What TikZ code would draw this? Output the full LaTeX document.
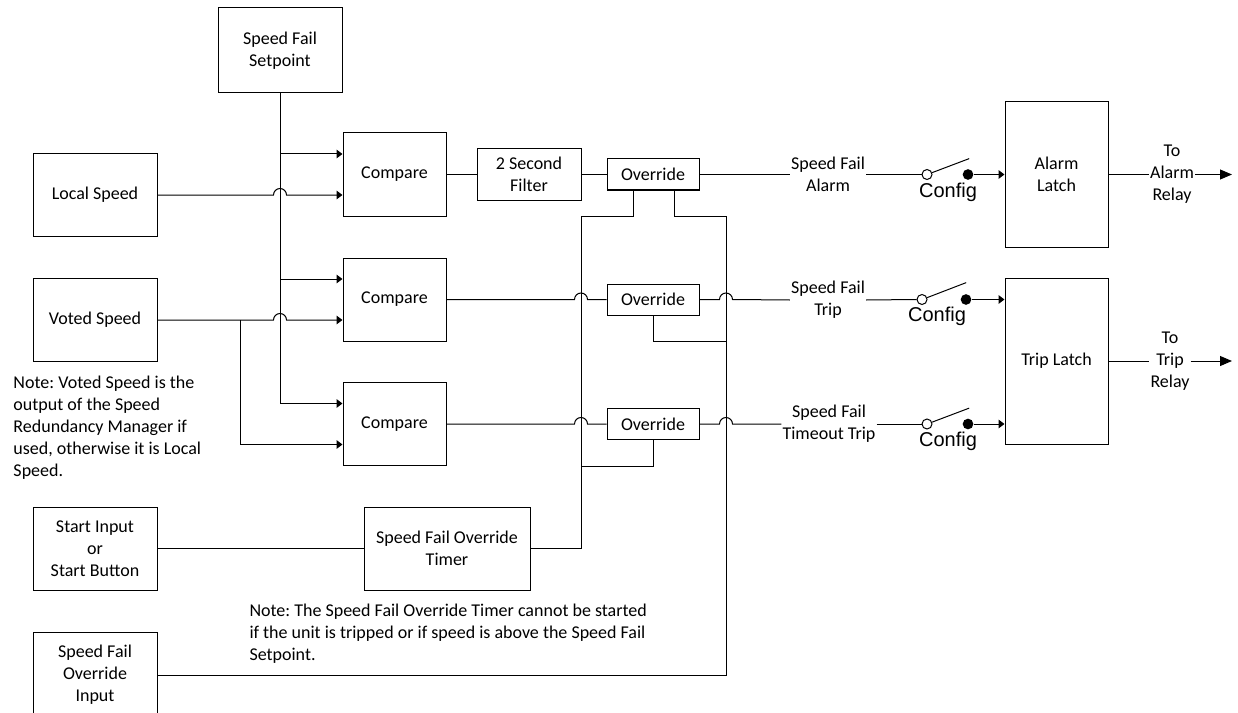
\documentclass[tikz,border=0pt]{standalone}
\usepackage{fontspec}
\setmainfont{Carlito}
\newfontfamily\cfgfont{Liberation Sans}
\usetikzlibrary{arrows.meta,calc}
\frenchspacing

\tikzset{every picture/.style={line width=0.75pt}}
\tikzset{
  txt/.style={font=\fontsize{13.5}{16.5}\selectfont},
  blk/.style={draw, txt, align=center, inner sep=1pt},
  lbl/.style={txt, align=center, inner xsep=0.5pt, inner ysep=1pt},
  note/.style={txt, anchor=north west, align=left, inner sep=0pt},
  cfg/.style={font=\cfgfont\fontsize{15}{17}\selectfont, inner sep=0pt},
  opencon/.style={draw, circle, fill=white, inner sep=0pt, minimum size=7.5pt},
  shutcon/.style={fill, circle, inner sep=0pt, minimum size=8pt},
  inarr/.style={-{Triangle[length=4.5pt,width=6.5pt]}},
  outarr/.style={-{Triangle[length=9pt,width=7.5pt]}},
  hop/.style={insert path={arc[start angle=180,end angle=360,radius=6.5]}},
}

\begin{document}
\begin{tikzpicture}[x=0.75pt,y=0.75pt,yscale=-1,xscale=1]
\useasboundingbox (0,0) rectangle (1238,713);

% Input blocks
\node[blk, minimum width=93pt, minimum height=63.75pt] (setp) at (280,50.5) {Speed Fail\\Setpoint};
\node[blk, minimum width=93pt, minimum height=62.25pt] (local) at (95,195) {Local Speed};
\node[blk, minimum width=93pt, minimum height=62.25pt] (voted) at (95,320) {Voted Speed};
\node[blk, minimum width=93pt, minimum height=62.25pt] (start) at (95,548.5) {Start Input\\or\\Start Button};
\node[blk, minimum width=93pt, minimum height=64.5pt] (sfoi) at (95,675) {Speed Fail\\Override\\Input};

% Compare blocks
\node[blk, minimum width=77.25pt, minimum height=62.25pt] (cmp1) at (394.5,174.5) {Compare};
\node[blk, minimum width=77.25pt, minimum height=62.25pt] (cmp2) at (394.5,299.5) {Compare};
\node[blk, minimum width=77.25pt, minimum height=62.25pt] (cmp3) at (394.5,424) {Compare};

% Filter, overrides, timer
\node[blk, minimum width=78pt, minimum height=39pt] (filt) at (529,174.5) {2 Second\\Filter};
\node[blk, minimum width=69pt, minimum height=23.25pt] (ovr1) at (653,174.5) {Override};
\node[blk, minimum width=69pt, minimum height=23.25pt] (ovr2) at (653,299.5) {Override};
\node[blk, minimum width=69pt, minimum height=23.25pt] (ovr3) at (653,424) {Override};
\node[blk, minimum width=124.5pt, minimum height=62.25pt] (timer) at (447,548.5) {Speed Fail Override\\Timer};

% Latches
\node[blk, minimum width=77.25pt, minimum height=108.75pt] (alatch) at (1056.5,174.5) {Alarm\\Latch};
\node[blk, minimum width=77.25pt, minimum height=124.5pt] (tlatch) at (1056.5,361) {Trip Latch};

% Signal labels
\node[lbl] (sfa) at (828,174.5) {Speed Fail\\Alarm};
\node[lbl] (sft) at (828,300) {Speed Fail\\Trip};
\node[lbl] (sfto) at (829,424) {Speed Fail\\Timeout Trip};
\node[lbl] (toa) at (1172,174.5) {To\\Alarm\\Relay};
\node[lbl] (tot) at (1170,361) {To\\Trip\\Relay};

% Config switches
\node[opencon] (o1) at (927,174.5) {};
\node[shutcon] (s1) at (968,174.5) {};
\node[opencon] (o2) at (922,299.5) {};
\node[shutcon] (s2) at (966,299.5) {};
\node[opencon] (o3) at (927,424) {};
\node[shutcon] (s3) at (968,424) {};
\node[cfg] (cfg1) at (948,192) {Config};
\node[cfg] (cfg2) at (937,316) {Config};
\node[cfg] (cfg3) at (948,441) {Config};

% Notes
\node[note] (note1) at (13,375) {Note: Voted Speed is the\\output of the Speed\\Redundancy Manager if\\used, otherwise it is Local\\Speed.};
\node[note] (note2) at (249,603) {Note: The Speed Fail Override Timer cannot be started\\if the unit is tripped or if speed is above the Speed Fail\\Setpoint.};

% Compare inputs and bus junctions
\coordinate (c1a) at ($(cmp1.west)+(0,-20.5)$);
\coordinate (c1b) at ($(cmp1.west)+(0,20.5)$);
\coordinate (c2a) at ($(cmp2.west)+(0,-20.5)$);
\coordinate (c2b) at ($(cmp2.west)+(0,20.5)$);
\coordinate (c3a) at ($(cmp3.west)+(0,-20.5)$);
\coordinate (c3b) at ($(cmp3.west)+(0,20.5)$);
\coordinate (vj) at (240,320);
\coordinate (ja) at (581,216);
\coordinate (jb) at (726,216);
\coordinate (ea) at (1232,174.5);
\coordinate (et) at (1232,361);

% Setpoint feed
\draw[inarr] (setp.south) |- (c3a);
\draw[inarr] (setp.south |- c1a) -- (c1a);
\draw[inarr] (setp.south |- c2a) -- (c2a);

% Speed feeds
\draw[inarr] (local.east) -- ($(setp.south |- local.east)+(-6.5,0)$) [hop] -- (c1b);
\draw[inarr] (voted.east) -- ($(setp.south |- voted.east)+(-6.5,0)$) [hop] -- (c2b);
\draw[inarr] (vj) |- (c3b);

% Alarm path
\draw (cmp1.east) -- (filt.west);
\draw (filt.east) -- (ovr1.west);
\draw (ovr1.east) -- (sfa.west);
\draw (sfa.east) -- (o1.west);

% Trip path
\draw (cmp2.east) -- ($(ja |- cmp2.east)+(-6.5,0)$) [hop] -- (ovr2.west);
\draw (ovr2.east) -- ($(jb |- ovr2.east)+(-6.5,0)$) [hop] -- (sft.west);
\draw (sft.east) -- (o2.west);

% Timeout trip path
\draw (cmp3.east) -- ($(ja |- cmp3.east)+(-6.5,0)$) [hop] -- (ovr3.west);
\draw (ovr3.east) -- ($(jb |- ovr3.east)+(-6.5,0)$) [hop] -- (sfto.west);
\draw (sfto.east) -- (o3.west);

% Override buses
\draw ($(ovr1.south)+(-20,0)$) |- (ja) -- (ja |- timer.east) -- (timer.east);
\draw ($(ovr1.south)+(21,0)$) |- (jb) -- (jb |- sfoi.east) -- (sfoi.east);
\draw (ovr2.south) |- (jb |- cmp2.south);
\draw (ovr3.south) |- (ja |- cmp3.south);
\draw (start.east) -- (timer.west);

% Switch blades and latch inputs
\draw (o1.20) -- ++(37,-14);
\draw (o2.20) -- ++(39,-15);
\draw (o3.20) -- ++(37,-14);
\draw[inarr] (s1.east) -- (alatch.west |- s1);
\draw[inarr] (s2.east) -- (tlatch.west |- s2);
\draw[inarr] (s3.east) -- (tlatch.west |- s3);

% Relay outputs
\draw (alatch.east |- toa) -- (toa.west);
\draw[outarr] (toa.east) -- (ea);
\draw (tlatch.east) -- (tot.west);
\draw[outarr] (tot.east) -- (et);

\end{tikzpicture}
\end{document}
